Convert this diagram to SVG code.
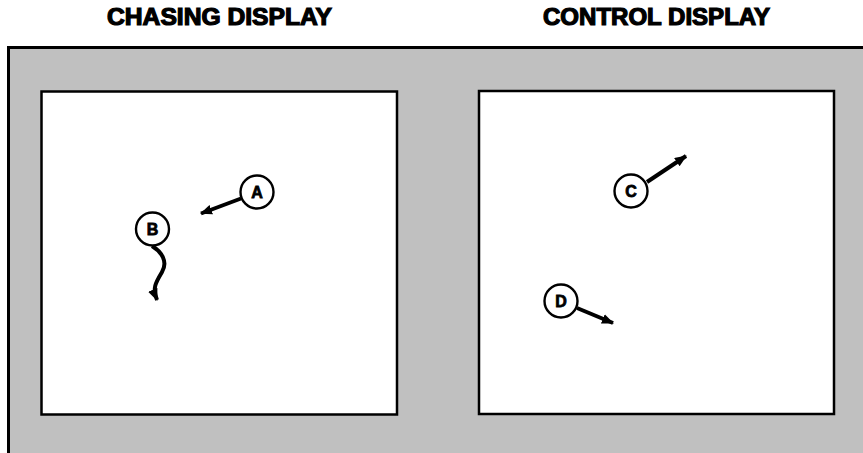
<svg xmlns="http://www.w3.org/2000/svg" width="863" height="453" viewBox="0 0 863 453">
<style>
.title{font-family:"Liberation Sans",Arial,sans-serif;font-weight:bold;font-size:23px;fill:#000;stroke:#000;stroke-width:1.2}
.panel{fill:#c0c0c0;stroke:#000;stroke-width:3}
.screen{fill:#fff;stroke:#000;stroke-width:2.5}
.node circle{fill:#fff;stroke:#000;stroke-width:2.4}
.node text{font-family:"Liberation Sans",Arial,sans-serif;font-weight:bold;font-size:16px;fill:#000;stroke:#000;stroke-width:0.8;text-anchor:middle}
.conn{fill:none;stroke:#000;stroke-width:4;stroke-linecap:butt}
</style>
<defs>
<marker id="ah" markerUnits="userSpaceOnUse" viewBox="0 0 12 10" refX="11" refY="5" markerWidth="12" markerHeight="10" orient="auto">
<path d="M0,0 L12,5 L0,10 z" fill="#000"/>
</marker>
</defs>
<rect width="863" height="453" fill="#fff"/>
<text class="title" x="107" y="25" textLength="225" lengthAdjust="spacingAndGlyphs">CHASING DISPLAY</text>
<text class="title" x="543" y="25" textLength="227" lengthAdjust="spacingAndGlyphs">CONTROL DISPLAY</text>
<rect class="panel" x="8.5" y="47.5" width="870" height="420"/>
<rect class="screen" x="41.5" y="91.5" width="355.5" height="323"/>
<rect class="screen" x="479" y="91" width="355" height="323"/>
<g id="connectors">
<line class="conn" x1="241" y1="198.5" x2="201" y2="213.5" marker-end="url(#ah)"/>
<path class="conn" d="M152,246 C162,252 168,262 162,272 C156,282 152,288 157,300" marker-end="url(#ah)"/>
<line class="conn" x1="647" y1="182" x2="686" y2="156" marker-end="url(#ah)"/>
<line class="conn" x1="577" y1="308" x2="613" y2="323" marker-end="url(#ah)"/>
</g>
<g id="A" class="node"><circle cx="257" cy="192" r="16.5"/><text x="257" y="198">A</text></g>
<g id="B" class="node"><circle cx="152.5" cy="229" r="16.5"/><text x="152.5" y="235">B</text></g>
<g id="C" class="node"><circle cx="631" cy="191" r="16.5"/><text x="631" y="197">C</text></g>
<g id="D" class="node"><circle cx="561" cy="301" r="16.5"/><text x="561" y="307">D</text></g>
</svg>
